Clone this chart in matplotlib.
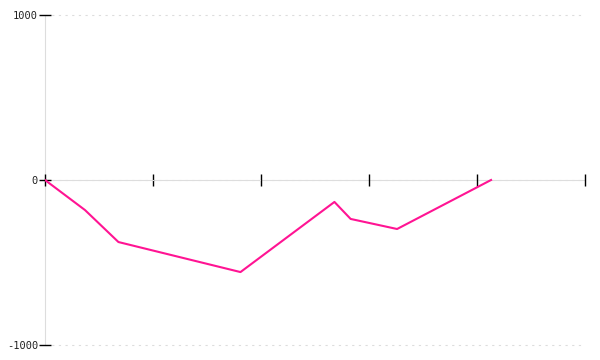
import matplotlib.pyplot as plt

# data
x = [0, 0.37, 0.68, 1.81, 2.68, 2.83, 3.26, 4.13]
y = [0, -182, -376, -558, -133, -236, -297, 0]
y_ticks = [-1000, 0, 1000]
x_ticks = [0, 1, 2, 3, 4, 5]

fig = plt.figure(figsize=(6, 3.6), dpi=100)
ax = fig.add_axes([0.075, 1 - 345 / 360, 0.9, 330 / 360])

ax.plot(x, y, color='#ff1493', linewidth=1.5, zorder=3)

ax.set_xlim(0, 5)
ax.set_ylim(-1000, 1000)

# y axis
ax.set_yticks(y_ticks)
ax.set_yticklabels([str(v) for v in y_ticks], family='DejaVu Sans Mono', fontsize=7.5, color='#222222')
ax.tick_params(axis='y', direction='inout', length=8, width=1, color='black', pad=1)
ax.yaxis.grid(True, linestyle=(0, (2, 4)), color='#dddddd', linewidth=0.8)
for gl in ax.get_ygridlines():
    gl.set_clip_on(False)

# x axis at zero, ticks without labels
ax.spines['bottom'].set_position(('data', 0))
ax.spines['bottom'].set_color('#dddddd')
ax.spines['left'].set_color('#dddddd')
ax.spines['left'].set_zorder(1)
ax.spines['bottom'].set_zorder(1)
ax.spines['top'].set_visible(False)
ax.spines['right'].set_visible(False)
ax.set_xticks(x_ticks)
ax.set_xticklabels([])
ax.tick_params(axis='x', direction='inout', length=9, width=1, color='black')

fig.savefig('out.png', dpi=100)
